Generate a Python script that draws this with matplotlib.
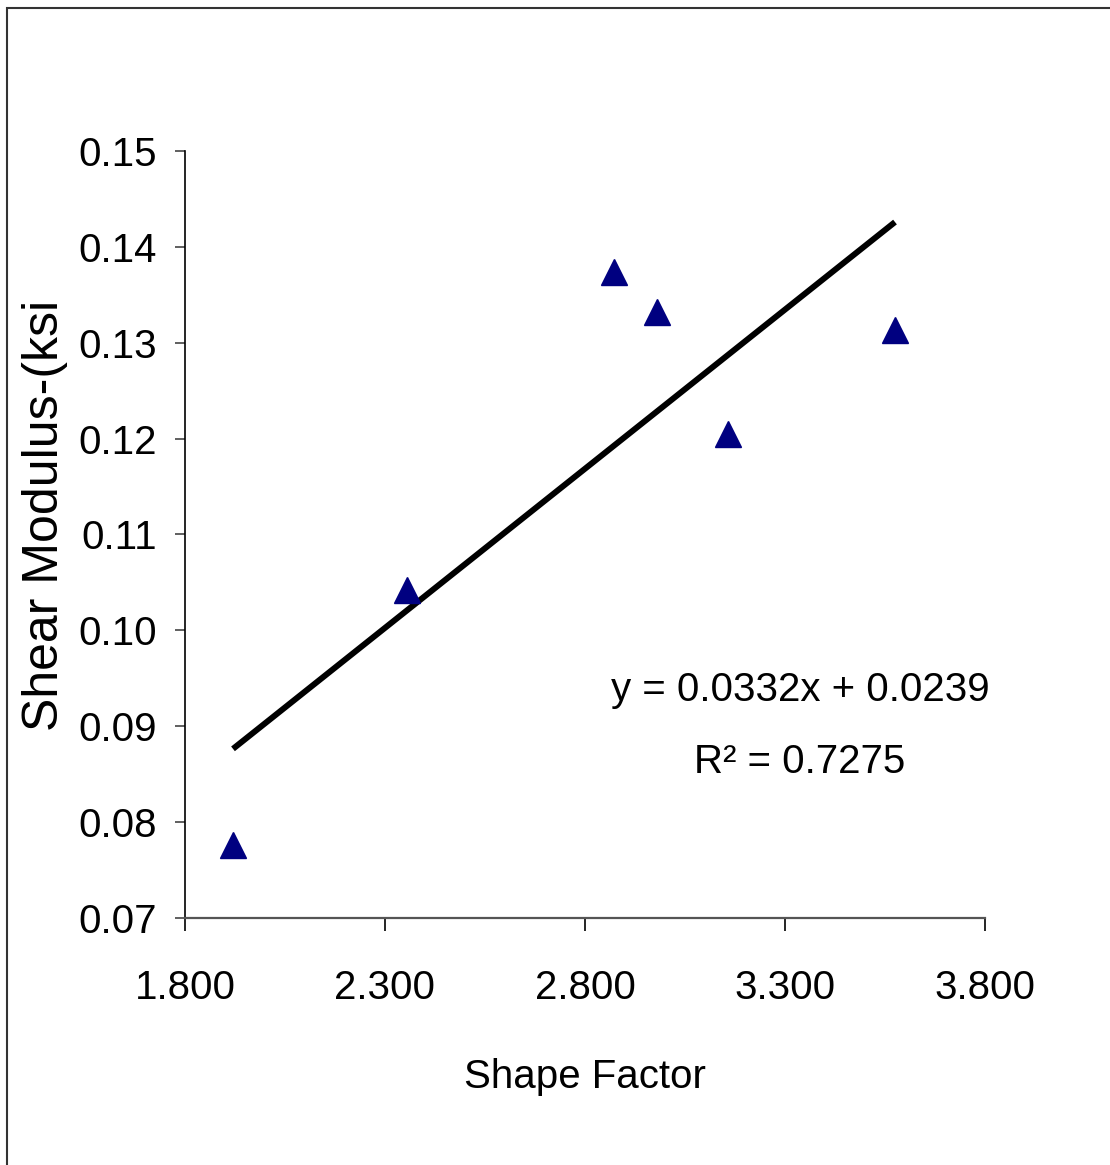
import matplotlib
matplotlib.use('Agg')
import matplotlib.pyplot as plt
from matplotlib.patches import Rectangle

# Data
shape_factor = [1.92, 2.355, 2.8725, 2.98, 3.1575, 3.575]
shear_modulus = [0.0776, 0.1042, 0.1374, 0.1332, 0.1205, 0.1313]

# Linear trendline shown on the chart
slope = 0.0332
intercept = 0.0239
r_squared = 0.7275

x_ticks = [1.8, 2.3, 2.8, 3.3, 3.8]
y_ticks = [0.07, 0.08, 0.09, 0.10, 0.11, 0.12, 0.13, 0.14, 0.15]

plt.rcParams['font.family'] = ['Liberation Sans', 'DejaVu Sans']

W, H = 1110, 1165
fig = plt.figure(figsize=(W / 100, H / 100), dpi=100)
ax = fig.add_axes([185 / W, 1 - 918 / H, 800 / W, 767 / H])

# Outer chart frame (only left and top edges fall inside the image)
fig.patches.append(Rectangle((7 / W, -0.05), 1.2, 1 - 8 / H + 0.05,
                             transform=fig.transFigure, fill=False,
                             edgecolor='#333333', linewidth=1.5))

ax.plot(shape_factor, shear_modulus, linestyle='none', marker='^',
        markersize=19, color='#000080', zorder=3)

x0, x1 = min(shape_factor), max(shape_factor)
ax.plot([x0, x1], [slope * x0 + intercept, slope * x1 + intercept],
        color='black', linewidth=4.3, solid_capstyle='butt', zorder=2)

ax.set_xlim(1.8, 3.8)
ax.set_ylim(0.07, 0.15)
ax.set_xticks(x_ticks)
ax.set_xticklabels(['{:.3f}'.format(v) for v in x_ticks])
ax.set_yticks(y_ticks)
ax.set_yticklabels(['{:.2f}'.format(v) for v in y_ticks])

ax.spines['top'].set_visible(False)
ax.spines['right'].set_visible(False)
ax.spines['left'].set_color('black')
ax.spines['bottom'].set_color('#555555')
ax.spines['left'].set_linewidth(1.2)
ax.spines['bottom'].set_linewidth(1.6)

ax.tick_params(axis='y', direction='out', length=7, width=1.2, pad=13,
               labelsize=29, color='#444444')
ax.tick_params(axis='x', direction='out', length=9, width=1.2, pad=28,
               labelsize=29, color='black')

fig.text(585 / W, 1 - 1077 / H, 'Shape Factor', fontsize=29,
         ha='center', va='center')
fig.text(45 / W, 1 - 515 / H, 'Shear Modulus-(ksi', fontsize=36,
         rotation=90, ha='center', va='center')

fig.text(800 / W, 1 - 690 / H, 'y = {}x + {}'.format(slope, intercept),
         fontsize=29, ha='center', va='center')
fig.text(800 / W, 1 - 762 / H, 'R² = {}'.format(r_squared), fontsize=29,
         ha='center', va='center')

fig.savefig('out.png', dpi=100)
